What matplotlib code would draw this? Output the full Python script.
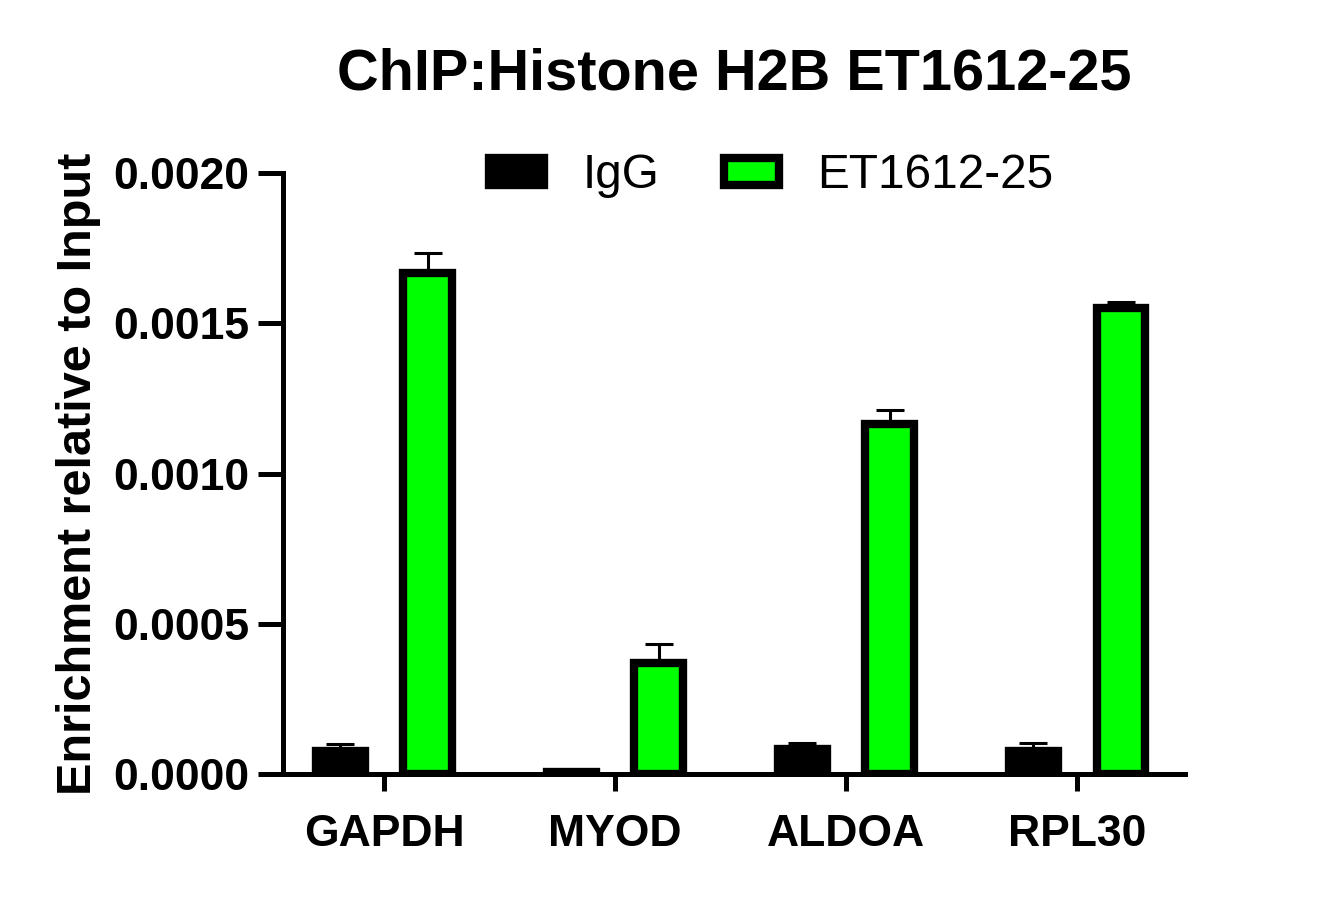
import numpy as np
import matplotlib
matplotlib.use("Agg")
import matplotlib.pyplot as plt
from matplotlib.patches import Patch

genes = ["GAPDH", "MYOD", "ALDOA", "RPL30"]
igg = [0.0000765, 0.000005, 0.0000832, 0.0000765]
igg_err = [0.000023, 0.0, 0.000021, 0.000028]
et = [0.001666, 0.000369, 0.001165, 0.001551]
et_err = [0.000067, 0.000064, 0.000046, 0.000020]

plt.rcParams['font.family'] = ['Liberation Sans', 'DejaVu Sans']

fig = plt.figure(figsize=(13.2, 9.13), dpi=100)
ax = fig.add_axes([283/1320, 1-774/913, (1185-283)/1320, (774-173)/913])

x = np.arange(len(genes))
w = 0.212
off = 0.19
green = "#00FF00"
edge_lw = 6

ax.bar(x - off, igg, w, color="black", edgecolor="black", linewidth=edge_lw, zorder=2)
ax.bar(x + off, et, w, color=green, edgecolor="black", linewidth=edge_lw, zorder=2)
ax.errorbar(x - off, igg, yerr=[np.zeros(4), igg_err], fmt="none", ecolor="black",
            elinewidth=2.2, capsize=10.4, capthick=2.2, zorder=1)
ax.errorbar(x + off, et, yerr=[np.zeros(4), et_err], fmt="none", ecolor="black",
            elinewidth=2.2, capsize=10.4, capthick=2.2, zorder=1)

ax.set_xlim(-0.437, 3.467)
ax.set_ylim(0, 0.002)
ax.set_yticks([0, 0.0005, 0.001, 0.0015, 0.002])
ax.set_yticklabels(["0.0000", "0.0005", "0.0010", "0.0015", "0.0020"])
ax.set_xticks(x)
ax.set_xticklabels(genes)

for s in ["top", "right"]:
    ax.spines[s].set_visible(False)
for s in ["left", "bottom"]:
    ax.spines[s].set_linewidth(3.6)
    ax.spines[s].set_zorder(3)

ax.tick_params(axis="y", length=18, width=3.6, pad=6, labelsize=32)
ax.tick_params(axis="x", length=12, width=3.6, pad=17, labelsize=32)
for lab in ax.get_xticklabels() + ax.get_yticklabels():
    lab.set_fontweight("bold")

ax.set_ylabel("Enrichment relative to Input", fontsize=35, fontweight="bold")
ax.yaxis.set_label_coords(-0.202, 0.5)

fig.text(734/1320, 1-75/913, "ChIP:Histone H2B ET1612-25", fontsize=41.5,
         fontweight="bold", ha="center", va="center")

handles = [Patch(facecolor="black", edgecolor="black", linewidth=edge_lw),
           Patch(facecolor=green, edgecolor="black", linewidth=edge_lw)]
fig.legend(handles, ["IgG", "ET1612-25"], loc="center", ncol=2, frameon=False,
           bbox_to_anchor=(771/1320, 1-176/913), fontsize=34.4,
           handlelength=1.15, handleheight=0.48, handletextpad=0.8,
           columnspacing=1.35)

fig.savefig("out.png", dpi=100)
